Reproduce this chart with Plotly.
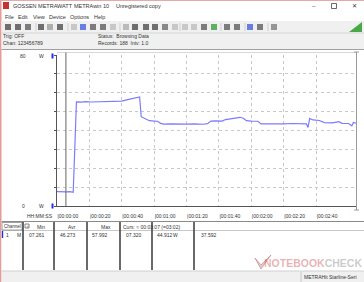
import plotly.graph_objects as go

# ---------------- data ----------------
times = [0, 2, 4, 6, 8, 9, 10, 11, 12, 15, 18, 21, 24, 27, 30, 33, 36, 40, 43, 46, 49, 51,
         52, 54, 57, 60, 62, 64, 66, 70, 75, 80, 85, 90, 93, 95, 98, 102, 104, 107, 110, 113,
         115, 117, 120, 124, 126, 130, 135, 140, 145, 150, 153, 154, 155, 156, 158, 162, 165,
         170, 174, 176, 180, 182, 183, 185]
power = [7.6, 7.5, 7.3, 7.5, 7.6, 7.4, 7.3, 31.0, 55.2, 55.0, 55.3, 55.1, 55.2, 55.4, 55.3, 55.5, 55.4, 55.6, 56.2, 56.8, 57.4, 57.8,
         47.3, 46.6, 45.2, 45.0, 44.9, 43.8, 43.4, 43.5, 43.3, 43.4, 43.5, 43.3, 43.6, 45.0, 45.1, 45.0, 45.8, 46.3, 46.6, 47.0,
         46.5, 45.2, 45.0, 44.9, 43.5, 43.4, 43.6, 43.5, 43.7, 43.6, 43.8, 43.5, 41.6, 46.4, 45.6, 45.3, 44.2,
         44.0, 44.7, 43.8, 43.7, 42.5, 44.3, 43.8]
x_ticks = [0, 20, 40, 60, 80, 100, 120, 140, 160]
x_tick_text = ["|00:00:00", "|00:00:20", "|00:00:40", "|00:01:00", "|00:01:20",
               "|00:01:40", "|00:02:00", "|00:02:20", "|00:02:40"]
cursor_time = 5.5
menu_items = ["File", "Edit", "View", "Device", "Options", "Help"]
table_header = ["Min", "Avr", "Max"]
table_values = ["07.261", "46.273", "57.992", "07.320", "44.912", "37.592"]

# ---------------- geometry helpers (pixel -> paper) ----------------
W, H = 364, 282
L, R, T, B = 57, 356, 55, 206
def px(x):
    return (x - L) / (R - L)
def py(y):
    return (B - y) / (B - T)

FONT = "Liberation Sans"
shapes = []
annots = []

def rect(x0, y0, x1, y1, fill=None, line=None, lw=1, layer="below", opacity=1):
    shapes.append(dict(type="rect", xref="paper", yref="paper",
                       x0=px(x0), x1=px(x1), y0=py(y1), y1=py(y0),
                       fillcolor=fill if fill else "rgba(0,0,0,0)",
                       line=dict(color=line if line else "rgba(0,0,0,0)", width=lw if line else 0),
                       layer=layer, opacity=opacity))

def seg(x0, y0, x1, y1, color, lw=1, layer="above", dash=None):
    d = dict(color=color, width=lw)
    if dash:
        d["dash"] = dash
    shapes.append(dict(type="line", xref="paper", yref="paper",
                       x0=px(x0), x1=px(x1), y0=py(y0), y1=py(y1), line=d, layer=layer))

def text(x, y, s, size=5.5, color="#333333", xanchor="left", bold=False, family=FONT):
    annots.append(dict(x=px(x), y=py(y), xref="paper", yref="paper", text=("<b>%s</b>" % s) if bold else s,
                       showarrow=False, xanchor=xanchor, yanchor="middle", borderpad=0,
                       font=dict(size=size, color=color, family=family)))

# ---------------- window chrome ----------------
rect(0, 0, W, 12, fill="#ffffff")
seg(0, 0.5, W, 0.5, "#e6a8a8", 1)
rect(0, 0, 1.5, H, fill="#e79a9a")
# app icon
rect(3, 2, 9, 9, fill="#c83232")
text(12, 6, "GOSSEN METRAWATT", size=5.5)
text(73, 6, "METRAwin 10", size=5.5)
text(115, 6, "Unregistered copy", size=5.5)
text(314, 6, "–", size=6, xanchor="center")
rect(331.5, 3.5, 336.5, 8.5, line="#444444", lw=0.8, layer="above")
text(354, 6, "✕", size=6, xanchor="center")

# menu
menu_x = [4, 17, 32, 48, 69, 93]
for mx, m in zip(menu_x, menu_items):
    text(mx, 17, m, size=5.5)

# toolbar
rect(1.5, 21, W, 33, fill="#f0f0f0")
seg(1.5, 33, W, 33, "#d4d4d4", 1)
icons = [(8, "#444"), (18, "#444"), (28, "#555"), (41, "#444"), (50, "#999"), (60, "#444"),
         (74, "#bbb"), (83, "#3a5ad8"), (93, "#555"), (103, "#555"), (113, "#bbb"),
         (126, "#aaa"), (135, "#444"), (146, "#444"), (155, "#444"), (165, "#666"), (175, "#bbb"),
         (185, "#bbb"), (194, "#bbb"), (204, "#555"), (214, "#2f9a3a"), (227, "#555"),
         (237, "#555"), (250, "#3a5ad8"), (260, "#555"), (274, "#777")]
for ix, col in icons:
    rect(ix - 3, 24, ix + 3, 30, fill=col, opacity=0.75)
for sx in [36, 68, 120, 180, 221, 245, 268]:
    seg(sx, 23, sx, 31, "#cfcfcf", 1)
shapes.append(dict(type="path", xref="paper", yref="paper",
                   path="M %f %f L %f %f L %f %f Z" % (px(349), py(32), px(362), py(32), px(362), py(22)),
                   fillcolor="#4aa84a", line=dict(width=0), layer="above"))

# info area
rect(1.5, 33, W, 49, fill="#f0f0f0")
text(2, 36.5, "Trig: OFF", size=5)
text(2, 43.5, "Chan: 123456789", size=5)
text(97, 36.5, "Status:&nbsp;&nbsp;Browsing Data", size=5)
text(97, 43.5, "Records: 188&nbsp;&nbsp;Intv: 1.0", size=5)

# chart panel border
seg(1.5, 49.5, W, 49.5, "#a0a0a0", 1)
seg(L, 52.5, R, 52.5, "#d8d8d8", 1)
seg(R + 0.5, 52, R + 0.5, 210, "#9a9a9a", 1)
seg(R - 2, 210, R + 3, 210, "#9a9a9a", 1)
seg(R - 2, 52, R + 3, 52, "#9a9a9a", 1)

# y labels and markers
text(23, 56, "80", size=5, xanchor="center")
text(41, 56, "W", size=5, xanchor="center")
text(23, 206, "0", size=5, xanchor="center")
text(41, 206, "W", size=5, xanchor="center")
rect(51.5, 53.5, 53.5, 58.5, fill="#2030e0", layer="above")
rect(51.5, 203.5, 53.5, 208.5, fill="#2030e0", layer="above")
text(54, 216, "HH:MM:SS", size=5, xanchor="right")

# table
rect(1.5, 221, W, 271, fill="#ffffff")
seg(1.5, 221.5, W, 221.5, "#8a8a8a", 1)
seg(1.5, 230.5, W, 230.5, "#c8c8c8", 1)
rect(2, 222.5, 22, 230, line="#777777", lw=0.7, layer="above")
for vx in [23, 54, 87, 120, 152, 194]:
    seg(vx, 222, vx, 270, "#444444", 1.6)
text(2.5, 226.5, "Channel", size=4.5)
rect(25, 224, 29, 228, line="#555555", lw=0.7, layer="above")
text(27, 226, "✓", size=4, xanchor="center")
text(41, 226.5, table_header[0], size=5, xanchor="center")
text(72, 226.5, table_header[1], size=5, xanchor="center")
text(106, 226.5, table_header[2], size=5, xanchor="center")
text(122, 226.5, "Curs: ≈ 00:03:07 (=03:02)", size=5)
rect(1.8, 231, 3.2, 238, fill="#2030e0", layer="above")
text(5, 234.5, "1", size=5)
text(16, 234.5, "M", size=5)
val_x = [36.7, 67.7, 99.7, 133.7, 165.3, 208.5]
for vx, v in zip(val_x, table_values):
    text(vx, 234.5, v, size=5, xanchor="center")
text(175.7, 234.5, "W", size=5, xanchor="center")

# status bar
rect(1.5, 271, W, H, fill="#f0f0f0")
seg(1.5, 271, W, 271, "#d0d0d0", 1)
seg(301, 272, 301, H, "#c8c8c8", 1)
text(303, 276.5, "METRAHit Starline-Seri", size=5)

# watermark
shapes.append(dict(type="path", xref="paper", yref="paper",
                   path="M %f %f L %f %f L %f %f L %f %f Z" % (px(255), py(258), px(261), py(269),
                                                               px(271), py(255), px(261), py(265)),
                   fillcolor="rgba(160,160,160,0.45)", line=dict(color="rgba(200,80,80,0.45)", width=1), layer="above"))
annots.append(dict(x=px(263), y=py(263), xref="paper", yref="paper", showarrow=False,
                   xanchor="left", yanchor="middle", borderpad=0,
                   text="<b><span style='color:rgba(205,80,80,0.45)'>NOTEBOOK</span>"
                        "<span style='color:rgba(150,150,150,0.5)'>CHECK</span></b>",
                   font=dict(size=10.5, family="Liberation Sans Narrow, Liberation Sans")))

# cursor line
shapes.append(dict(type="line", xref="x", yref="paper", x0=cursor_time, x1=cursor_time,
                   y0=0, y1=py(52.5), line=dict(color="#666666", width=1), layer="above"))

fig = go.Figure(go.Scatter(x=times, y=power, mode="lines",
                           line=dict(color="#7b7bff", width=1.2), hoverinfo="skip"))
fig.update_layout(
    width=W, height=H, margin=dict(l=L, r=W - R, t=T, b=H - B),
    paper_bgcolor="#ffffff", plot_bgcolor="#ffffff", showlegend=False,
    shapes=shapes, annotations=annots,
    xaxis=dict(range=[0, 184.6], tickvals=x_ticks, ticktext=x_tick_text, tickmode="array",
               ticklabelposition="outside right", ticklabelstandoff=5,
               tickfont=dict(size=5, family=FONT, color="#333333"),
               showgrid=True, gridcolor="#c8c8c8", griddash="dot", gridwidth=1, zeroline=False,
               showline=True, linecolor="#555555", linewidth=1, ticks="", fixedrange=True),
    yaxis=dict(range=[0, 80], dtick=10, showticklabels=False, ticks="outside", ticklen=2,
               tickcolor="#555555", showgrid=True, gridcolor="#c8c8c8", griddash="dot", gridwidth=1,
               zeroline=False, showline=True, linecolor="#555555", linewidth=1, fixedrange=True),
)
fig.write_html("out.html", config={"displayModeBar": False})
